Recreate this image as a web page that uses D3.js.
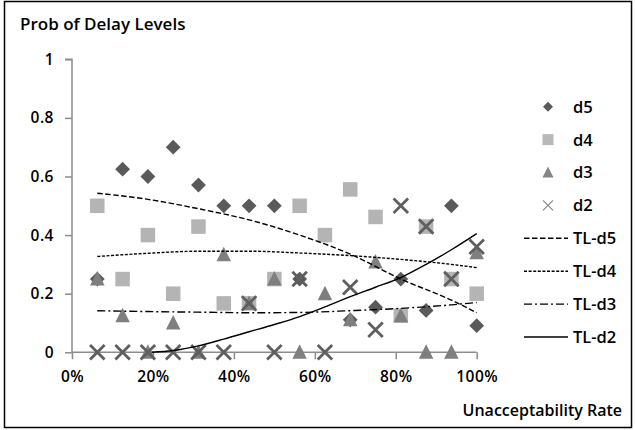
<!DOCTYPE html>
<html>
<head>
<meta charset="utf-8">
<script src="https://cdn.jsdelivr.net/npm/d3@7/dist/d3.min.js"></script>
<style>
  html, body { margin: 0; padding: 0; background: #fff; }
  svg text { font-family: "Open Sans", "Noto Sans", sans-serif; fill: #000; font-weight: 600; }
</style>
</head>
<body>
<svg id="chart" width="635" height="430"></svg>
<script>
// ---- data ----
const rates = [6.25, 12.5, 18.75, 25, 31.25, 37.5, 43.75, 50, 56.25, 62.5, 68.75, 75, 81.25, 87.5, 93.75, 100];
const level5 = [0.25, 0.625, 0.6, 0.7, 0.571, 0.5, 0.5, 0.5, 0.25, 0.4, 0.111, 0.154, 0.25, 0.143, 0.5, 0.091];
const level4 = [0.5, 0.25, 0.4, 0.2, 0.429, 0.167, 0.167, 0.25, 0.5, 0.4, 0.556, 0.462, 0.125, 0.429, 0.25, 0.2];
const level3 = [0.25, 0.125, 0, 0.1, 0, 0.333, 0.167, 0.25, 0, 0.2, 0.111, 0.308, 0.125, 0, 0, 0.34];
const level2 = [0, 0, 0, 0, 0, 0, 0.167, 0, 0.25, 0, 0.222, 0.077, 0.5, 0.429, 0.25, 0.36];

// trend lines
const tlRates = [6.25, 18.75, 31.25, 43.75, 56.25, 68.75, 81.25, 93.75, 100];
const tlLevel5 = [0.543, 0.522, 0.490, 0.452, 0.400, 0.335, 0.250, 0.178, 0.135];
const tlLevel4 = [0.327, 0.338, 0.345, 0.345, 0.339, 0.330, 0.317, 0.300, 0.289];
const tlLevel3 = [0.142, 0.139, 0.137, 0.135, 0.136, 0.142, 0.150, 0.162, 0.170];
const tl2Rates = [19.7, 25, 31.25, 37.5, 43.75, 50, 56.25, 62.5, 68.75, 75, 81.25, 87.5, 93.75, 100];
const tlLevel2 = [0, 0.006, 0.022, 0.045, 0.07, 0.095, 0.122, 0.155, 0.19, 0.222, 0.255, 0.3, 0.35, 0.405];

const xTicks = [0, 20, 40, 60, 80, 100];
const yTicks = [0, 0.2, 0.4, 0.6, 0.8, 1];
const legendLabels = ["d5", "d4", "d3", "d2", "TL-d5", "TL-d4", "TL-d3", "TL-d2"];
const titleText = "Prob of Delay Levels";
const xTitleText = "Unacceptability Rate";

// ---- drawing ----
const svg = d3.select("#chart");
const x = d3.scaleLinear().domain([0, 100]).range([72, 476.7]);
const y = d3.scaleLinear().domain([0, 1]).range([352.3, 59.3]);

// outer frame
svg.append("rect").attr("x", 4.5).attr("y", 1.5).attr("width", 627).attr("height", 426)
  .attr("fill", "none").attr("stroke", "#000").attr("stroke-width", 1.5);

svg.append("text").attr("x", 20).attr("y", 30).attr("font-size", 17).text(titleText);

const axisColor = "#8c8c8c";
const yAxis = svg.append("g").attr("transform", `translate(${x(0)},0)`)
  .call(d3.axisLeft(y).tickValues(yTicks).tickSize(7).tickPadding(12).tickFormat(d => d3.format("")(d)));
const xAxis = svg.append("g").attr("transform", `translate(0,${y(0)})`)
  .call(d3.axisBottom(x).tickValues(xTicks).tickSize(7).tickPadding(12).tickFormat(d => d + "%"));
[yAxis, xAxis].forEach(g => {
  g.select(".domain").attr("stroke", axisColor).attr("stroke-width", 1.5);
  g.selectAll(".tick line").attr("stroke", axisColor).attr("stroke-width", 1.5);
  g.selectAll(".tick text").attr("font-size", 15.5).attr("fill", "#000")
    .style("font-family", '"Open Sans", sans-serif').style("font-weight", 600).style("letter-spacing", "0.5px");
});
yAxis.selectAll(".tick text").attr("x", -18);
yAxis.select(".domain").attr("d", `M-7,${y(1)}H0V${y(0)}`);
xAxis.select(".domain").attr("d", `M${x(0)},0H${x(100)}`);

svg.append("text").attr("x", 622).attr("y", 416).attr("font-size", 16)
  .attr("text-anchor", "end").text(xTitleText);

// marker shapes
const colD5 = "#5a5a5a", colD4 = "#b4b4b4", colD3 = "#7f7f7f", colD2 = "#5f5f5f";
function diamond(g, cx, cy, r, col) {
  g.append("path").attr("d", `M${cx},${cy - r}L${cx + r},${cy}L${cx},${cy + r}L${cx - r},${cy}Z`).attr("fill", col);
}
function square(g, cx, cy, s, col) {
  g.append("rect").attr("x", cx - s / 2).attr("y", cy - s / 2).attr("width", s).attr("height", s).attr("fill", col);
}
function triangle(g, cx, cy, s, col) {
  g.append("path").attr("d", `M${cx},${cy - s * 0.55}L${cx + s / 2},${cy + s * 0.45}L${cx - s / 2},${cy + s * 0.45}Z`).attr("fill", col);
}
function cross(g, cx, cy, s, col, w) {
  g.append("path").attr("d", `M${cx - s / 2},${cy - s / 2}L${cx + s / 2},${cy + s / 2}M${cx - s / 2},${cy + s / 2}L${cx + s / 2},${cy - s / 2}`)
    .attr("stroke", col).attr("stroke-width", w).attr("fill", "none");
}

const marks = svg.append("g");
rates.forEach((r, i) => diamond(marks, x(r), y(level5[i]), 7.4, colD5));
rates.forEach((r, i) => square(marks, x(r), y(level4[i]), 14.5, colD4));
rates.forEach((r, i) => triangle(marks, x(r), y(level3[i]), 14.5, colD3));
rates.forEach((r, i) => cross(marks, x(r), y(level2[i]), 14.5, colD2, 2.8));

// trend lines
const line = d3.line().x(d => x(d[0])).y(d => y(d[1])).curve(d3.curveMonotoneX);
const trends = [
  { xs: tlRates, ys: tlLevel5, dash: "5.5,2.5" },
  { xs: tlRates, ys: tlLevel4, dash: "3,1.6" },
  { xs: tlRates, ys: tlLevel3, dash: "8,3,2,3" },
  { xs: tl2Rates, ys: tlLevel2, dash: null }
];
trends.forEach(t => {
  svg.append("path").attr("d", line(t.xs.map((v, i) => [v, t.ys[i]])))
    .attr("fill", "none").attr("stroke", "#000").attr("stroke-width", 1.4)
    .attr("stroke-dasharray", t.dash);
});

// legend
const lg = svg.append("g");
const ly = i => 106.7 + i * 32.9;
diamond(lg, 548, ly(0), 5, colD5);
square(lg, 548, ly(1), 11, "#b8b8b8");
triangle(lg, 548, ly(2), 11, "#858585");
cross(lg, 548, ly(3), 10, "#8a8a8a", 1.2);
trends.forEach((t, i) => {
  lg.append("line").attr("x1", 524).attr("x2", 568).attr("y1", ly(4 + i)).attr("y2", ly(4 + i))
    .attr("stroke", "#000").attr("stroke-width", 1.4).attr("stroke-dasharray", t.dash);
});
legendLabels.forEach((t, i) => {
  lg.append("text").attr("x", 573).attr("y", ly(i)).attr("dy", "0.36em").attr("font-size", 16.5).text(t);
});
</script>
</body>
</html>
